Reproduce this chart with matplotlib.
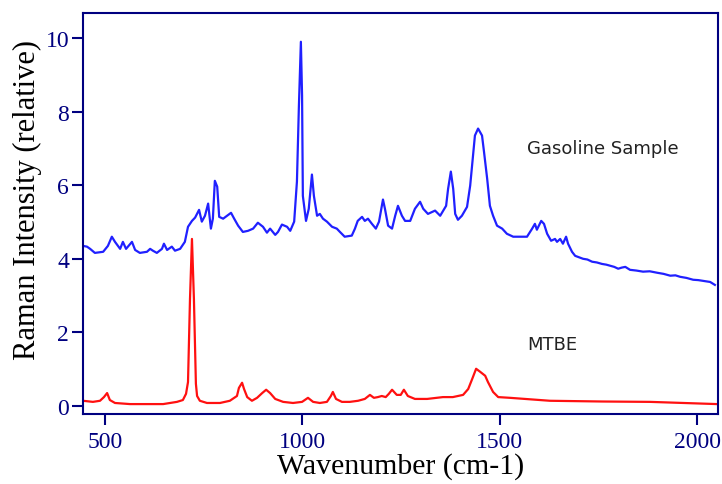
import numpy as np
import matplotlib

matplotlib.use("Agg")
import matplotlib.pyplot as plt

# Gasoline sample spectrum (wavenumber, relative intensity)
GAS_X = [444, 454, 462, 474, 495, 507, 517, 525, 538, 545, 553, 568, 576, 588,
         606, 614, 621, 631, 644, 649, 657, 669, 677, 690, 702, 710, 720, 728,
         738, 745, 753, 761, 768, 773, 778, 784, 789, 799, 809, 819, 827, 837,
         849, 862, 875, 887, 900, 910, 918, 931, 938, 948, 961, 969, 979, 986,
         991, 996, 999, 1001, 1009, 1016, 1024, 1029, 1037, 1044, 1052, 1062,
         1075, 1087, 1095, 1107, 1125, 1133, 1140, 1151, 1158, 1166, 1176, 1186,
         1194, 1201, 1204, 1209, 1217, 1227, 1235, 1242, 1252, 1260, 1273, 1285,
         1298, 1306, 1318, 1336, 1349, 1364, 1369, 1376, 1382, 1387, 1394, 1404,
         1417, 1425, 1432, 1437, 1445, 1455, 1460, 1468, 1475, 1483, 1493, 1506,
         1518, 1534, 1546, 1569, 1582, 1589, 1594, 1605, 1612, 1620, 1630, 1640,
         1645, 1653, 1660, 1668, 1673, 1683, 1691, 1711, 1722, 1734, 1746, 1759,
         1770, 1780, 1790, 1800, 1809, 1818, 1830, 1846, 1863, 1880, 1899, 1915,
         1932, 1945, 1957, 1973, 1990, 2003, 2015, 2033, 2045]
GAS_Y = [4.35, 4.33, 4.27, 4.16, 4.19, 4.35, 4.60, 4.46, 4.27, 4.46, 4.27, 4.46,
         4.24, 4.16, 4.19, 4.27, 4.22, 4.16, 4.27, 4.41, 4.24, 4.33, 4.22, 4.27,
         4.46, 4.87, 5.03, 5.12, 5.33, 5.01, 5.17, 5.50, 4.82, 5.09, 6.12, 5.96,
         5.14, 5.09, 5.17, 5.25, 5.09, 4.90, 4.73, 4.76, 4.82, 4.98, 4.87, 4.71,
         4.82, 4.65, 4.73, 4.93, 4.87, 4.76, 5.01, 6.10, 8.16, 9.90, 8.44, 5.71,
         5.03, 5.36, 6.29, 5.71, 5.17, 5.22, 5.09, 5.01, 4.87, 4.82, 4.73, 4.60,
         4.63, 4.82, 5.03, 5.14, 5.03, 5.09, 4.95, 4.82, 5.01, 5.44, 5.61, 5.36,
         4.90, 4.82, 5.17, 5.44, 5.17, 5.03, 5.03, 5.36, 5.55, 5.36, 5.22, 5.31,
         5.17, 5.44, 5.90, 6.37, 5.90, 5.22, 5.06, 5.17, 5.41, 5.99, 6.80, 7.35,
         7.54, 7.35, 6.91, 6.18, 5.44, 5.17, 4.90, 4.82, 4.68, 4.60, 4.60, 4.60,
         4.82, 4.95, 4.79, 5.03, 4.95, 4.68, 4.49, 4.54, 4.46, 4.54, 4.41, 4.60,
         4.41, 4.19, 4.08, 4.00, 3.98, 3.92, 3.90, 3.86, 3.84, 3.81, 3.78, 3.73,
         3.76, 3.78, 3.70, 3.68, 3.65, 3.66, 3.62, 3.59, 3.54, 3.55, 3.51, 3.48,
         3.43, 3.42, 3.40, 3.37, 3.29]

# MTBE spectrum
MTBE_X = [444, 469, 487, 497, 505, 512, 525, 563, 606, 647, 682, 697, 705, 710,
          715, 720, 725, 730, 733, 740, 758, 791, 816, 834, 839, 847, 852, 860,
          872, 885, 898, 908, 918, 931, 951, 976, 999, 1014, 1027, 1044, 1062,
          1072, 1077, 1085, 1100, 1120, 1141, 1158, 1171, 1181, 1191, 1201, 1211,
          1219, 1227, 1239, 1249, 1257, 1267, 1285, 1316, 1356, 1381, 1407, 1420,
          1430, 1440, 1450, 1463, 1470, 1483, 1496, 1526, 1627, 1760, 1881, 2050]
MTBE_Y = [0.14, 0.11, 0.14, 0.24, 0.35, 0.16, 0.08, 0.05, 0.05, 0.05, 0.11, 0.16,
          0.33, 0.65, 2.90, 4.54, 2.90, 0.60, 0.27, 0.14, 0.08, 0.08, 0.14, 0.27,
          0.49, 0.63, 0.46, 0.24, 0.14, 0.22, 0.35, 0.44, 0.35, 0.19, 0.11, 0.08,
          0.11, 0.22, 0.11, 0.08, 0.11, 0.27, 0.38, 0.19, 0.11, 0.11, 0.14, 0.19,
          0.30, 0.22, 0.24, 0.27, 0.24, 0.33, 0.44, 0.30, 0.30, 0.44, 0.27, 0.19,
          0.19, 0.24, 0.24, 0.30, 0.46, 0.73, 1.01, 0.93, 0.82, 0.65, 0.38, 0.24,
          0.22, 0.14, 0.12, 0.11, 0.05]

X_TICKS = [500, 1000, 1500, 2000]
Y_TICKS = [0, 2, 4, 6, 8, 10]

NAVY = "#000080"

fig = plt.figure(figsize=(7.22, 4.85), dpi=100)
ax = fig.add_axes([0.115, 0.1443, 0.8795, 0.8267])

ax.plot(GAS_X, GAS_Y, color="#2020ff", lw=1.6)
ax.plot(MTBE_X, MTBE_Y, color="#ff1010", lw=1.6)

ax.set_xlim(444, 2053)
ax.set_ylim(-0.22, 10.68)
ax.set_xticks(X_TICKS)
ax.set_yticks(Y_TICKS)

serif = ["Liberation Serif", "DejaVu Serif"]
ax.tick_params(direction="out", length=8, width=1.5, color=NAVY, labelcolor=NAVY,
               labelsize=17, pad=2)
ax.tick_params(axis="x", pad=4)
for lab in ax.get_xticklabels() + ax.get_yticklabels():
    lab.set_family(serif)
for s in ax.spines.values():
    s.set_color(NAVY)
    s.set_linewidth(1.5)

ax.set_xlabel("Wavenumber (cm-1)", family=serif, fontsize=21.5, labelpad=0)
ax.set_ylabel("Raman Intensity (relative)", family=serif, fontsize=22, va="center")
ax.yaxis.set_label_coords(-0.087, 0.536)

ax.text(1569, 7.0, "Gasoline Sample", fontsize=13, color="#222222", va="center")
ax.text(1569, 1.69, "MTBE", fontsize=13, color="#222222", va="center")

fig.savefig("out.png", dpi=100)
